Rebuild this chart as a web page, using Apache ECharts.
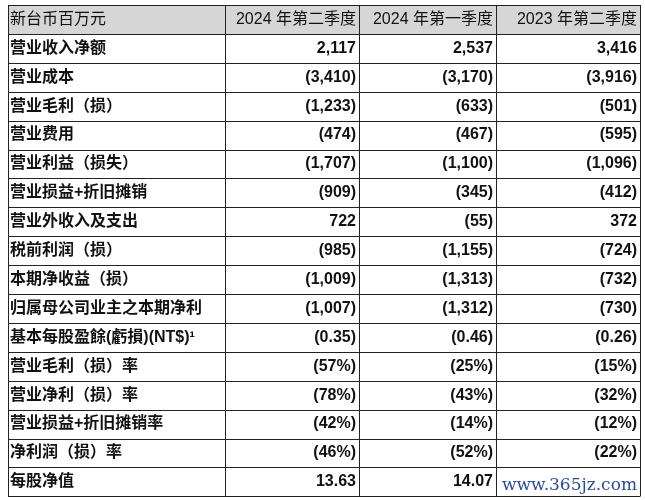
<!DOCTYPE html>
<html>
<head>
<meta charset="UTF-8">
<script src="https://cdn.jsdelivr.net/npm/echarts@6/dist/echarts.min.js"></script>
<style>html,body{margin:0;height:100%;background:#fff}#main{width:645px;height:500px}</style>
</head>
<body>
<div id="main"></div>
<script>
const headers = ['新台币百万元', '2024 年第二季度', '2024 年第一季度', '2023 年第二季度'];
const labels = ['营业收入净额', '营业成本', '营业毛利（损）', '营业费用', '营业利益（损失）', '营业损益+折旧摊销',
    '营业外收入及支出', '税前利润（损）', '本期净收益（损）', '归属母公司业主之本期净利', '基本每股盈餘(虧損)(NT$)¹',
    '营业毛利（损）率', '营业净利（损）率', '营业损益+折旧摊销率', '净利润（损）率', '每股净值'];
const q2_2024 = ['2,117', '(3,410)', '(1,233)', '(474)', '(1,707)', '(909)', '722', '(985)', '(1,009)', '(1,007)', '(0.35)', '(57%)', '(78%)', '(42%)', '(46%)', '13.63'];
const q1_2024 = ['2,537', '(3,170)', '(633)', '(467)', '(1,100)', '(345)', '(55)', '(1,155)', '(1,313)', '(1,312)', '(0.46)', '(25%)', '(43%)', '(14%)', '(52%)', '14.07'];
const q2_2023 = ['3,416', '(3,916)', '(501)', '(595)', '(1,096)', '(412)', '372', '(724)', '(732)', '(730)', '(0.26)', '(15%)', '(32%)', '(12%)', '(22%)', ''];

let chart = echarts.init(document.getElementById('main'));
const colX = [8, 225, 359, 496, 640];
const top0 = 5, rowH = 28.9;
const font = '"Liberation Sans", Arial, "Noto Sans CJK SC"';
let els = [];
let nRows = labels.length + 1;
// header background
els.push({type: 'rect', shape: {x: colX[0], y: top0, width: colX[4] - colX[0], height: rowH}, style: {fill: '#d6d6d6'}});
// grid lines
for (let r = 0; r <= nRows; r++) {
    let y = Math.round(top0 + r * rowH) + 0.5;
    els.push({type: 'line', shape: {x1: colX[0], y1: y, x2: colX[4], y2: y}, style: {stroke: '#222', lineWidth: 1}});
}
colX.forEach(function (x) {
    els.push({type: 'line', shape: {x1: x + 0.5, y1: top0, x2: x + 0.5, y2: Math.round(top0 + nRows * rowH) + 0.5}, style: {stroke: '#222', lineWidth: 1}});
});
function cell(text, col, row, bold) {
    let yc = top0 + row * rowH + rowH / 2;
    let left = col === 0;
    els.push({type: 'text', x: left ? colX[0] + 2 : colX[col + 1] - 3, y: yc,
        style: {text: text, fill: '#111', font: (bold ? 'bold ' : '') + '16px ' + font,
            textAlign: left ? 'left' : 'right', textVerticalAlign: 'middle'}});
}
headers.forEach(function (h, i) { cell(h, i, 0, false); });
labels.forEach(function (l, i) {
    cell(l, 0, i + 1, true);
    cell(q2_2024[i], 1, i + 1, true);
    cell(q1_2024[i], 2, i + 1, true);
    cell(q2_2023[i], 3, i + 1, true);
});
// watermark
els.push({type: 'text', x: 637, y: 486, style: {text: 'www.365jz.com', fill: '#2a4d9a', font: '17px "DejaVu Serif", serif', textAlign: 'right', textVerticalAlign: 'middle'}});

chart.setOption({animation: false, graphic: {elements: els}});
</script>
</body>
</html>
